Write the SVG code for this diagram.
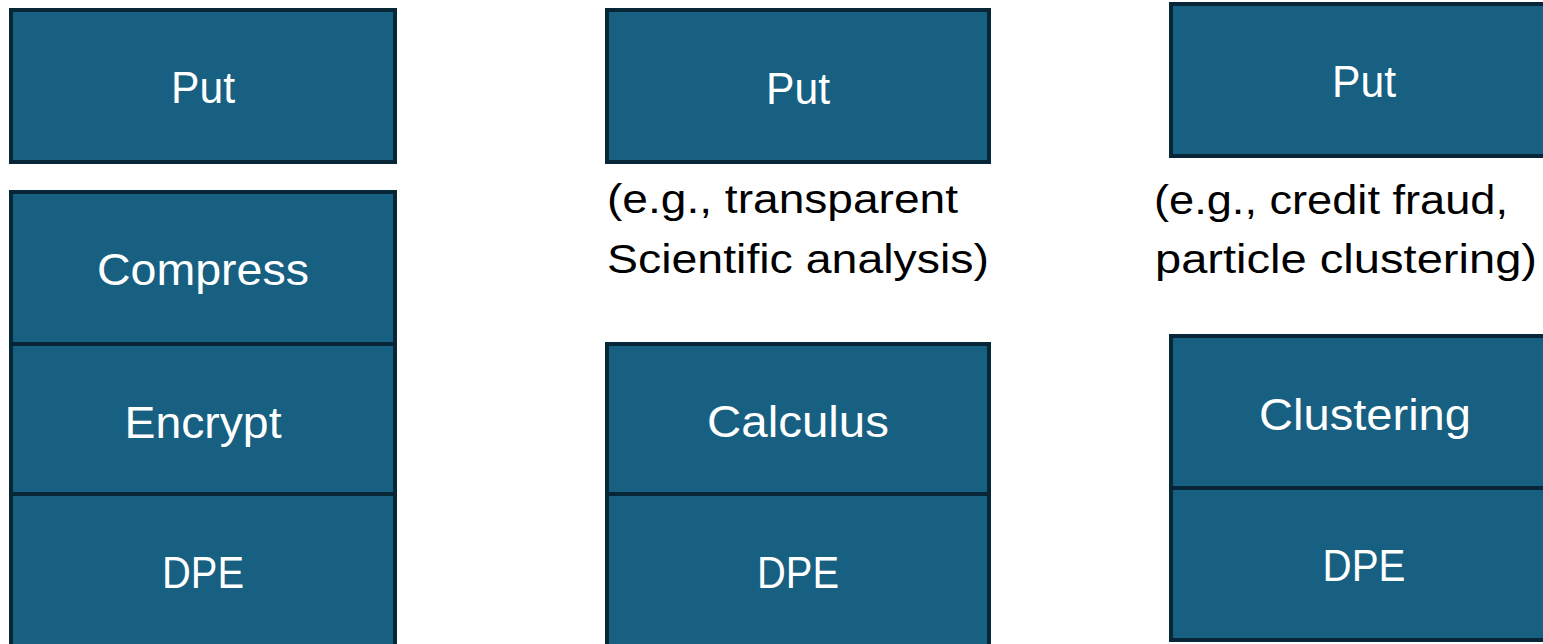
<svg xmlns="http://www.w3.org/2000/svg" width="1543" height="644" viewBox="0 0 1543 644">
  <style>
    .cell { fill: #176082; stroke: #072638; stroke-width: 4; }
    .lbl { font-family: "Liberation Sans", Arial, sans-serif; font-size: 44px; fill: #ffffff; text-anchor: middle; }
    .note { font-family: "Liberation Sans", Arial, sans-serif; font-size: 40px; fill: #000000; }
  </style>
  <rect width="1543" height="644" fill="#ffffff"/>

  <!-- Column 1: compression + encryption pipeline -->
  <g id="put-1">
    <rect class="cell" x="11" y="10" width="384" height="152"/>
    <text class="lbl" x="203" y="103" textLength="64" lengthAdjust="spacingAndGlyphs">Put</text>
  </g>
  <g id="compress">
    <rect class="cell" x="11" y="192" width="384" height="152"/>
    <text class="lbl" x="203" y="285" textLength="212" lengthAdjust="spacingAndGlyphs">Compress</text>
  </g>
  <g id="encrypt">
    <rect class="cell" x="11" y="344" width="384" height="150"/>
    <text class="lbl" x="203" y="438" textLength="157" lengthAdjust="spacingAndGlyphs">Encrypt</text>
  </g>
  <g id="dpe-1">
    <rect class="cell" x="11" y="494" width="384" height="162"/>
    <text class="lbl" x="203" y="588" textLength="82" lengthAdjust="spacingAndGlyphs">DPE</text>
  </g>

  <!-- Column 2: calculus pipeline -->
  <g id="put-2">
    <rect class="cell" x="607" y="10" width="382" height="152"/>
    <text class="lbl" x="798" y="104" textLength="64" lengthAdjust="spacingAndGlyphs">Put</text>
  </g>
  <g id="note-2">
    <text class="note" x="607" y="213" textLength="351" lengthAdjust="spacingAndGlyphs">(e.g., transparent</text>
    <text class="note" x="607" y="273" textLength="382" lengthAdjust="spacingAndGlyphs">Scientific analysis)</text>
  </g>
  <g id="calculus">
    <rect class="cell" x="607" y="344" width="382" height="150"/>
    <text class="lbl" x="798" y="437" textLength="182" lengthAdjust="spacingAndGlyphs">Calculus</text>
  </g>
  <g id="dpe-2">
    <rect class="cell" x="607" y="494" width="382" height="162"/>
    <text class="lbl" x="798" y="588" textLength="82" lengthAdjust="spacingAndGlyphs">DPE</text>
  </g>

  <!-- Column 3: clustering pipeline -->
  <g id="put-3">
    <rect class="cell" x="1171" y="4" width="386" height="152"/>
    <text class="lbl" x="1364" y="97" textLength="64" lengthAdjust="spacingAndGlyphs">Put</text>
  </g>
  <g id="note-3">
    <text class="note" x="1154" y="214" textLength="354" lengthAdjust="spacingAndGlyphs">(e.g., credit fraud,</text>
    <text class="note" x="1155" y="273" textLength="382" lengthAdjust="spacingAndGlyphs">particle clustering)</text>
  </g>
  <g id="clustering">
    <rect class="cell" x="1171" y="336" width="386" height="152"/>
    <text class="lbl" x="1365" y="430" textLength="212" lengthAdjust="spacingAndGlyphs">Clustering</text>
  </g>
  <g id="dpe-3">
    <rect class="cell" x="1171" y="488" width="386" height="152"/>
    <text class="lbl" x="1364" y="581" textLength="83" lengthAdjust="spacingAndGlyphs">DPE</text>
  </g>

  <g id="connectors"></g>
</svg>
